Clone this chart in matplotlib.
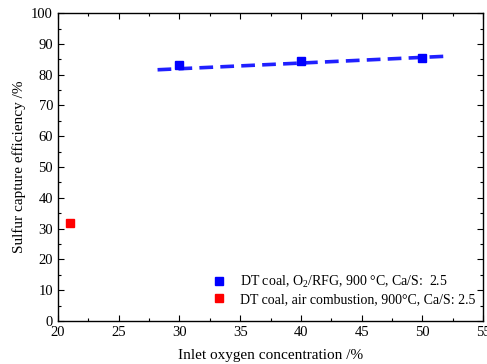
import matplotlib
matplotlib.use("Agg")
from matplotlib import pyplot as plt
from matplotlib.ticker import MultipleLocator

plt.rcParams["font.family"] = ["Liberation Serif", "DejaVu Serif"]
plt.rcParams["mathtext.fontset"] = "custom"
plt.rcParams["mathtext.rm"] = "Liberation Serif"

# O2/RFG series
oxy_x = [30, 40, 50]
oxy_y = [83.2, 84.5, 85.3]
# fitted trend line endpoints
fit_x = [28.2, 52.0]
fit_y = [81.6, 86.0]
# air combustion
air_x = [21]
air_y = [31.8]

fig = plt.figure(figsize=(4.87, 3.64), dpi=100)
ax = fig.add_axes([0.119, 0.118, 0.873, 0.846])

ax.plot(fit_x, fit_y, c="#2020ff", lw=2.6, ls=(0, (3.8, 2.0)), zorder=2)
ax.plot(oxy_x, oxy_y, "s", c="#0000ff", ms=5.5, ls="none", zorder=3,
        label=r"DT coal, O$_2$/RFG, 900 °C, Ca/S:  2.5")
ax.plot(air_x, air_y, "s", c="#ff0000", ms=5.5, ls="none", zorder=3,
        label="DT coal, air combustion, 900°C, Ca/S: 2.5")

ax.set_xlim(20, 55)
ax.set_ylim(0, 100)
ax.xaxis.set_major_locator(MultipleLocator(5))
ax.xaxis.set_minor_locator(MultipleLocator(2.5))
ax.yaxis.set_major_locator(MultipleLocator(10))
ax.yaxis.set_minor_locator(MultipleLocator(5))
ax.tick_params(which="both", direction="in", top=True, right=True, labelsize=10.5, width=0.8)
ax.tick_params(which="major", length=4)
ax.tick_params(which="minor", length=2.5)
for s in ax.spines.values():
    s.set_linewidth(1.0)

ax.set_xlabel("Inlet oxygen concentration /%", fontsize=11, labelpad=7)
ax.set_ylabel("Sulfur capture efficiency /%", fontsize=11)

ax.legend(loc="lower right", frameon=False, fontsize=10, handlelength=1.0,
          handletextpad=1.0, borderaxespad=0.7, labelspacing=0.2,
          bbox_to_anchor=(1.018, 0.0))

fig.savefig("out.png", dpi=100)
